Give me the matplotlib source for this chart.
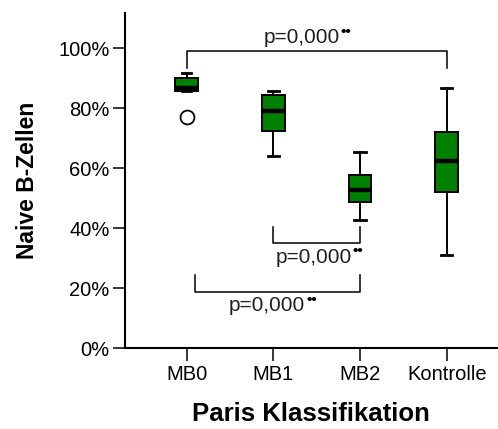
import matplotlib.pyplot as plt

plt.rcParams['font.family'] = ['Liberation Sans', 'DejaVu Sans']

groups = ['MB0', 'MB1', 'MB2', 'Kontrolle']
q1 = [85.8, 72.4, 48.9, 52.2]
med = [86.9, 79.2, 52.8, 62.6]
q3 = [90.0, 84.4, 57.7, 72.0]
whis_lo = [85.8, 64.1, 42.8, 31.2]
whis_hi = [91.6, 85.9, 65.4, 86.7]
outliers = [[77.0], [], [], []]

# significance brackets: (left group, right group, y of bar, y of leg ends, label x, label y, va)
brackets = [(1, 4, 99.2, 93.5, 2.33, 100.3, 'bottom'),
            (2, 3, 35.2, 40.5, 2.47, 33.6, 'top'),
            (1.1, 3, 18.9, 24.4, 1.93, 17.3, 'top')]
p_label = 'p=0,000'

fig = plt.figure(figsize=(4.98, 4.29), dpi=100)
ax = fig.add_axes([0.251, 0.188, 0.747, 0.782])

stats = []
for i in range(len(groups)):
    stats.append(dict(med=med[i], q1=q1[i], q3=q3[i], whislo=whis_lo[i],
                      whishi=whis_hi[i], fliers=outliers[i], label=groups[i]))

ax.bxp(stats, positions=range(1, 5), widths=0.26, capwidths=[0.11, 0.13, 0.13, 0.13],
       patch_artist=True,
       boxprops=dict(facecolor='#008000', edgecolor='black', linewidth=1.4),
       medianprops=dict(color='black', linewidth=3.2),
       whiskerprops=dict(color='black', linewidth=1.4),
       capprops=dict(color='black', linewidth=2.0),
       flierprops=dict(marker='o', markerfacecolor='white', markeredgecolor='black',
                       markersize=10, markeredgewidth=1.3))

for x1, x2, yb, yl, tx, ty, va in brackets:
    ax.plot([x1, x1, x2, x2], [yl, yb, yb, yl], color='black', linewidth=1.1)
    t = ax.text(tx, ty, p_label, ha='center', va=va, fontsize=15, color='#202020')
    ax.annotate('\u2022\u2022', xy=(1.0, 1.0), xycoords=t, xytext=(0.5, 2.5),
                textcoords='offset points', ha='left', va='top',
                fontsize=11, fontweight='bold', color='black')

ax.set_xlim(0.29, 4.58)
ax.set_ylim(0, 111.8)
ax.set_yticks([0, 20, 40, 60, 80, 100])
ax.set_yticklabels(['0%', '20%', '40%', '60%', '80%', '100%'])
ax.set_xticks(range(1, 5))
ax.set_xticklabels(groups)

for side in ['top', 'right']:
    ax.spines[side].set_visible(False)
for side in ['left', 'bottom']:
    ax.spines[side].set_linewidth(1.5)
ax.tick_params(axis='both', length=9, width=1.1, labelsize=14.5, pad=2)
ax.tick_params(axis='x', pad=3)

ax.set_ylabel('Naive B-Zellen', fontsize=16.5, fontweight='bold', labelpad=14)
ax.set_xlabel('Paris Klassifikation', fontsize=18.5, fontweight='bold', labelpad=13)

fig.savefig('out.png', dpi=100)
